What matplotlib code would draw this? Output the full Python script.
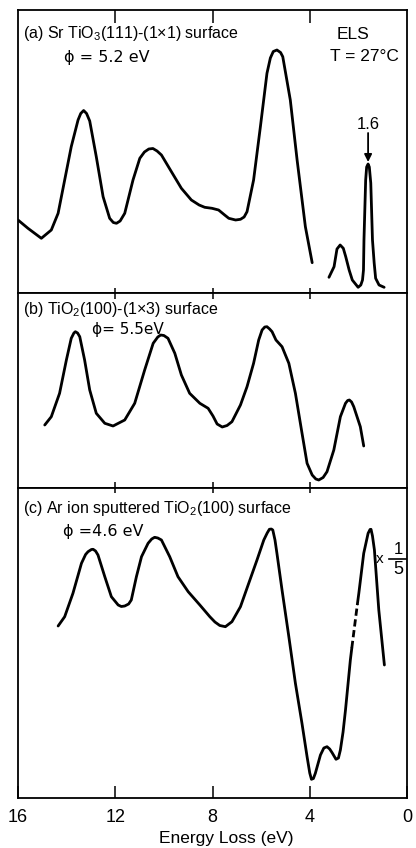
import matplotlib
matplotlib.use("Agg")
import matplotlib.pyplot as plt
import numpy as np

plt.rcParams['font.family'] = ['Liberation Sans', 'DejaVu Sans']
plt.rcParams['mathtext.fontset'] = 'custom'
plt.rcParams['mathtext.rm'] = 'Liberation Sans'
plt.rcParams['mathtext.it'] = 'Liberation Sans'

# ---- (a) SrTiO3(111)-(1x1): main loss spectrum (arb. units) ----
energy_a = [16.0, 15.59, 15.04, 14.63, 14.35, 14.08, 13.81, 13.53, 13.42, 13.30, 13.18,
            13.05, 12.78, 12.50, 12.23, 12.08, 11.95, 11.80, 11.61, 11.27, 10.99, 10.80,
            10.62, 10.45, 10.28, 10.10, 9.69, 9.28, 8.87, 8.55, 8.32, 8.02, 7.75, 7.50,
            7.33, 7.05, 6.85, 6.70, 6.58, 6.31, 6.03, 5.76, 5.62, 5.50, 5.35, 5.20, 5.11,
            4.80, 4.52, 4.18, 3.90]
loss_a = [73, 64.7, 54.7, 63, 79.7, 113, 146.3, 173, 179.5, 182.5, 179.5,
          172, 136.3, 96.3, 74.7, 70.5, 69.7, 72, 79.7, 113, 134.7, 141,
          144, 144.5, 142, 138, 121.3, 104.7, 93, 88, 85.7, 84.7, 83, 78,
          74.7, 73, 73.7, 76, 81.3, 113, 166.3, 219.7, 235, 241.5, 243, 240.5, 236.3,
          193, 133, 66.3, 30.3]

# low-loss region recorded separately
energy_a_low = [3.21, 3.00, 2.88, 2.75, 2.62, 2.52, 2.38, 2.25, 2.01, 1.90, 1.83, 1.79,
                1.77, 1.70, 1.66, 1.60, 1.55, 1.49, 1.42, 1.35, 1.29, 1.15, 0.94]
loss_a_low = [15.7, 26.3, 44, 48, 44.7, 36.3, 23, 13, 5.7, 8, 13, 23,
              53, 113, 126, 129, 126, 110, 53, 30, 14.7, 8, 5.7]
peak_a = 1.6

# ---- (b) TiO2(100)-(1x3) ----
energy_b = [14.90, 14.63, 14.29, 14.01, 13.81, 13.70, 13.64, 13.55, 13.46, 13.26, 13.05,
            12.78, 12.43, 12.09, 11.61, 11.20, 10.79, 10.44, 10.25, 10.13, 10.00, 9.83,
            9.55, 9.28, 8.94, 8.52, 8.18, 7.98, 7.81, 7.60, 7.40, 7.20, 6.85, 6.58, 6.31,
            6.10, 5.96, 5.85, 5.76, 5.65, 5.55, 5.39, 5.14, 4.86, 4.59, 4.34, 4.11, 3.90,
            3.75, 3.63, 3.45, 3.29, 3.01, 2.74, 2.53, 2.44, 2.37, 2.28, 2.19, 1.92, 1.78]
loss_b = [63, 71.3, 94.7, 128, 149.7, 155, 156.3, 155, 151.3, 128, 98,
          74.7, 64.7, 62, 68, 84.7, 118, 144.7, 151, 153, 152.5, 149.7,
          134.7, 113, 94.7, 84.7, 79.7, 72, 64, 61, 62.5, 66.3, 83, 101.3, 124.7,
          148, 158, 161, 161.3, 159, 156.3, 148, 141.3, 124.7, 94.7, 58, 24.7, 13,
          9, 8, 10.5, 16.3, 38, 71.3, 84.7, 87.5, 88, 86, 81.3, 61.3, 42]

# ---- (c) Ar ion sputtered TiO2(100) ----
energy_c = [14.35, 14.08, 13.74, 13.39, 13.22, 13.12, 12.98, 12.91, 12.81, 12.71, 12.43,
            12.16, 11.88, 11.75, 11.61, 11.45, 11.34, 11.13, 10.92, 10.65, 10.50, 10.38,
            10.25, 10.10, 9.76, 9.42, 9.00, 8.52, 8.11, 7.90, 7.70, 7.47, 7.20, 6.85,
            6.51, 6.17, 5.89, 5.75, 5.66, 5.58, 5.52, 5.43, 5.35, 5.14, 4.86, 4.59, 4.32,
            4.11, 4.00, 3.93, 3.85, 3.77, 3.56, 3.42, 3.29, 3.18, 3.08, 2.92, 2.82, 2.74,
            2.63, 2.53, 2.33, 2.27, 2.04, 1.98, 1.78, 1.60, 1.52, 1.48, 1.42, 1.34, 1.16,
            0.93]
loss_c = [172, 181.3, 204.7, 234.7, 243.5, 246.3, 248.5, 248.7, 247, 243, 221.3,
          201.3, 193, 191.5, 192, 194, 198, 221.3, 241.3, 254.7, 259, 260.7,
          260, 258, 241.3, 221.3, 206.3, 193, 181.3, 176, 172.5, 171.3, 176.3, 191.3,
          214.7, 238, 258, 265, 268.7, 269, 268, 258, 244.7, 208, 161.3, 114.7, 74.7,
          41.3, 25, 18.7, 19.5, 24.7, 43, 50, 51.3, 49, 45.3, 38.7, 40, 48,
          66, 88, 138, 150, 194, 205, 244.7, 264.7, 268.5, 268.7, 262, 248, 188,
          133]
# stretch of trace (c) drawn broken
broken_c = (2.04, 2.27)

x_ticks = [16, 12, 8, 4, 0]
x_ticklabels = ["16", "12", "8", "4", "0"]

LW = 2.0
SPINE = 1.3
TICKW = 1.1
PHI_FONT = ['DejaVu Sans']

fig = plt.figure(figsize=(4.16, 8.48), dpi=100)
left, width = 18 / 416, 389 / 416
axA = fig.add_axes([left, 1 - 293 / 848, width, 283 / 848])
axB = fig.add_axes([left, 1 - 488 / 848, width, 195 / 848])
axC = fig.add_axes([left, 1 - 798 / 848, width, 310 / 848])


def frame(ax, ymax, top_len, bottom_len):
    ax.set_xlim(16, 0)
    ax.set_ylim(0, ymax)
    ax.set_yticks([])
    for s in ax.spines.values():
        s.set_linewidth(SPINE)
    ax.set_xticks([12, 8, 4])
    ax.tick_params(axis='x', direction='in', bottom=True, top=False,
                   length=bottom_len, width=TICKW, labelbottom=False)
    sec = ax.secondary_xaxis('top')
    sec.set_xticks([12, 8, 4])
    sec.tick_params(direction='in', length=top_len, width=TICKW, labeltop=False)
    sec.spines['top'].set_visible(False)


frame(axA, 283, 9.5, 3.8)
frame(axB, 195, 4.5, 4.5)
frame(axC, 310, 3.8, 9.0)

# panel (a)
axA.plot(energy_a, loss_a, color='k', lw=LW, solid_capstyle='round', solid_joinstyle='round')
axA.plot(energy_a_low, loss_a_low, color='k', lw=LW, solid_capstyle='round', solid_joinstyle='round')
i_pk = int(np.argmax(loss_a_low))
axA.annotate('', xy=(peak_a, loss_a_low[i_pk] + 2), xytext=(peak_a, loss_a_low[i_pk] + 31),
             arrowprops=dict(arrowstyle='-|>', color='k', lw=1.3, mutation_scale=11,
                             shrinkA=0, shrinkB=0))
axA.text(peak_a, loss_a_low[i_pk] + 39, f"{peak_a:.1f}", ha='center', va='center', fontsize=12)

axA.text(0.013, 0.918, r"(a) Sr TiO$_3$(111)-(1×1) surface", transform=axA.transAxes,
         ha='left', va='center', fontsize=11.5)
axA.text(0.117, 0.833, "ϕ = 5.2 eV", transform=axA.transAxes,
         ha='left', va='center', fontsize=11.5, family=PHI_FONT)
axA.text(0.86, 0.915, "ELS", transform=axA.transAxes, ha='center', va='center', fontsize=12.5)
axA.text(0.89, 0.836, "T = 27°C", transform=axA.transAxes, ha='center', va='center', fontsize=12.5)

# panel (b)
axB.plot(energy_b, loss_b, color='k', lw=LW, solid_capstyle='round', solid_joinstyle='round')
axB.text(0.013, 0.915, r"(b) TiO$_2$(100)-(1×3) surface", transform=axB.transAxes,
         ha='left', va='center', fontsize=11.5)
axB.text(0.19, 0.815, "ϕ= 5.5eV", transform=axB.transAxes,
         ha='left', va='center', fontsize=11, family=PHI_FONT)

# panel (c)
e_c = np.array(energy_c)
l_c = np.array(loss_c)
lo, hi = broken_c
m_high = e_c >= hi
m_mid = (e_c <= hi) & (e_c >= lo)
m_low = e_c <= lo
axC.plot(e_c[m_high], l_c[m_high], color='k', lw=LW, solid_capstyle='round', solid_joinstyle='round')
axC.plot(e_c[m_mid], l_c[m_mid], color='k', lw=LW, dashes=(2.6, 1.3))
axC.plot(e_c[m_low], l_c[m_low], color='k', lw=LW, solid_capstyle='round', solid_joinstyle='round')

axC.text(0.013, 0.934, r"(c) Ar ion sputtered TiO$_2$(100) surface", transform=axC.transAxes,
         ha='left', va='center', fontsize=11.5)
axC.text(0.115, 0.861, "ϕ =4.6 eV", transform=axC.transAxes,
         ha='left', va='center', fontsize=11.5, family=PHI_FONT)
axC.text(0.93, 0.77, "x", transform=axC.transAxes, ha='center', va='center', fontsize=11)
axC.text(0.978, 0.803, "1", transform=axC.transAxes, ha='center', va='center', fontsize=12)
axC.text(0.978, 0.737, "5", transform=axC.transAxes, ha='center', va='center', fontsize=13)
axC.plot([0.955, 0.998], [0.770, 0.770], transform=axC.transAxes, color='k', lw=1.2,
         clip_on=False)

axC.set_xticks(x_ticks)
axC.set_xticklabels(x_ticklabels)
axC.tick_params(axis='x', labelbottom=True, labelsize=13, pad=8)
axC.set_xlabel("Energy Loss (eV)", fontsize=12.5)
axC.xaxis.set_label_coords(0.535, -0.105)

fig.savefig("out.png", dpi=100, facecolor='white')
